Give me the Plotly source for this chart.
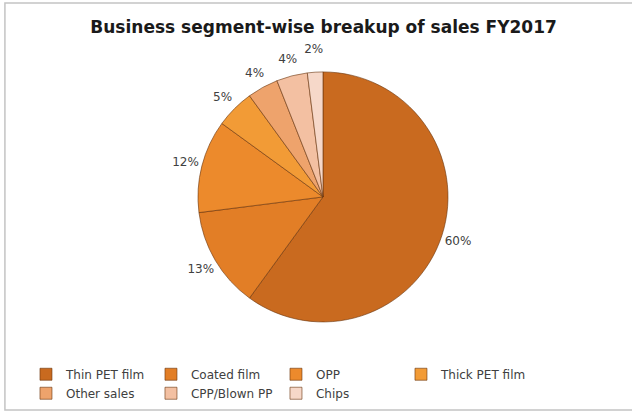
"""Business segment-wise breakup of sales FY2017 - pie chart."""

import plotly.graph_objects as go

segments = [
    "Thin PET film", "Coated film", "OPP", "Thick PET film",
    "Other sales", "CPP/Blown PP", "Chips",
]
shares = [60, 13, 12, 5, 4, 4, 2]
colors = [
    "#C96A1F", "#E27E26", "#EC8A2C", "#F29B36",
    "#EEA36C", "#F3C0A2", "#F6D8C9",
]

TEXT = "#404040"
FONT = "'DejaVu Sans', Verdana, sans-serif"

# plot area is kept narrower on the right so the legend wraps after 4 entries
MARGIN_L, MARGIN_R = 6, 86
PLOT_W = 632 - MARGIN_L - MARGIN_R
FRAME_X1 = (632 + 4 - MARGIN_L) / PLOT_W

fig = go.Figure()

# the pie itself
fig.add_trace(go.Pie(
    labels=segments,
    values=shares,
    sort=False,
    direction="clockwise",
    rotation=0,
    marker=dict(colors=colors, line=dict(color="rgba(105,52,12,0.6)", width=1)),
    textinfo="none",
    domain=dict(x=[0.3555, 0.8185], y=[0.215, 0.832]),
    hovertemplate="%{label}: %{percent:.0%}<extra></extra>",
))

# transparent ring around the pie that only carries the percentage labels
fig.add_trace(go.Pie(
    labels=segments,
    values=shares,
    sort=False,
    direction="clockwise",
    rotation=0,
    hole=0.797,
    marker=dict(colors=["rgba(0,0,0,0)"] * len(shares), line=dict(width=0)),
    texttemplate="%{percent:.0%}",
    textposition="inside",
    insidetextorientation="horizontal",
    insidetextfont=dict(family=FONT, size=12, color=TEXT),
    domain=dict(x=[0.2944, 0.8796], y=[0.1335, 0.9136]),
    showlegend=False,
    hoverinfo="skip",
))

fig.update_layout(
    width=632,
    height=413,
    paper_bgcolor="white",
    plot_bgcolor="white",
    font=dict(family=FONT, color=TEXT, size=12),
    margin=dict(l=MARGIN_L, r=MARGIN_R, t=3, b=3),
    uniformtext=dict(minsize=12, mode="show"),
    title=dict(
        text="<b>Business segment-wise breakup of sales FY2017</b>",
        x=0.512, xanchor="center",
        y=0.935, yanchor="middle",
        font=dict(family=FONT, size=17, color="#1a1a1a"),
    ),
    showlegend=True,
    legend=dict(
        orientation="h",
        x=0.037, xanchor="left",
        y=0.1235, yanchor="top",
        entrywidth=80,
        bgcolor="rgba(0,0,0,0)",
        font=dict(family=FONT, size=12, color=TEXT),
        itemwidth=30,
    ),
    shapes=[dict(
        type="rect", xref="paper", yref="paper",
        x0=-0.002, x1=FRAME_X1, y0=0, y1=1,
        line=dict(color="#C4C4C4", width=1.5),
    )],
)

fig.write_html(
    "out.html",
    config={"displayModeBar": False},
    post_script="document.body.style.margin = '0';",
)
